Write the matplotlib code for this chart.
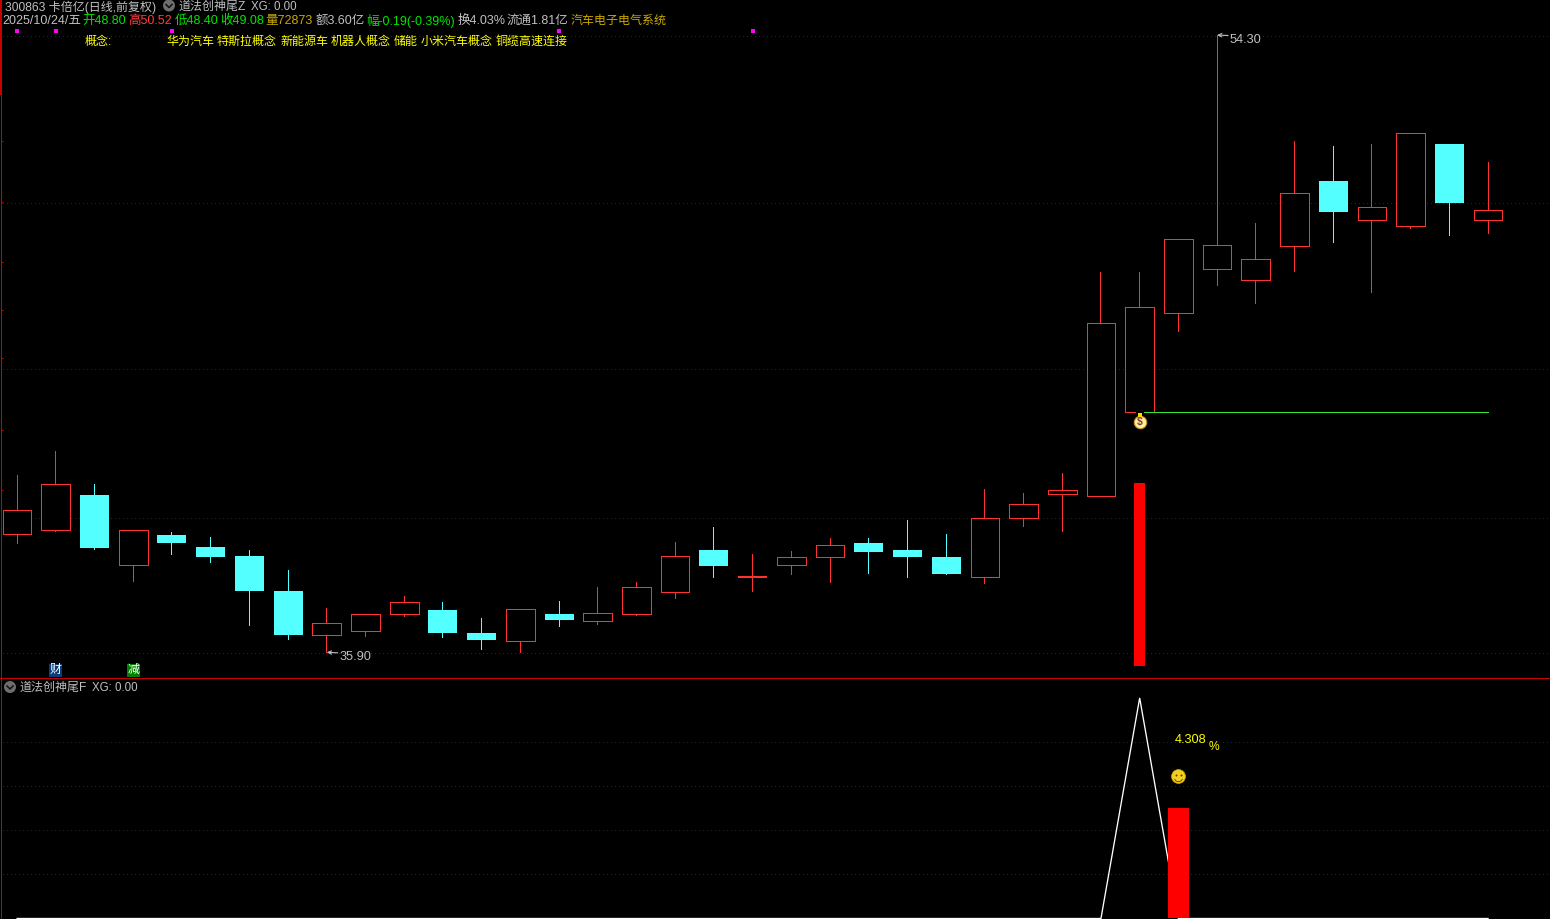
import matplotlib
matplotlib.use("Agg")
import matplotlib.pyplot as plt
from matplotlib.path import Path
from matplotlib.transforms import offset_copy

W, H = 1550, 919
FONT = ['Liberation Sans', 'Noto Sans CJK SC', 'DejaVu Sans']
plt.rcParams['font.family'] = FONT

opens = [39.44, 39.55, 40.59, 38.51, 39.40, 39.04, 38.77, 37.73, 36.43, 36.54,
         37.05, 37.16, 36.48, 36.25, 37.04, 36.84, 37.05, 37.71, 38.95, 38.15,
         38.51, 38.75, 39.16, 38.95, 38.74, 38.15, 39.91, 40.63, 40.57, 43.07,
         46.00, 47.32, 47.01, 48.02, 49.95, 48.79, 48.62, 51.05, 48.80]
closes = [40.13, 40.91, 39.01, 39.54, 39.16, 38.74, 37.73, 36.42, 36.77, 37.03,
          37.39, 36.48, 36.27, 37.18, 36.86, 37.06, 37.84, 38.76, 38.47, 38.15,
          38.73, 39.09, 38.89, 38.74, 38.23, 39.89, 40.31, 40.73, 45.71, 46.18,
          48.21, 48.03, 47.61, 49.58, 49.02, 49.16, 51.37, 49.29, 49.08]
highs = [41.19, 41.90, 40.92, 39.54, 39.49, 39.34, 38.95, 38.35, 37.22, 37.03,
         37.58, 37.40, 36.92, 37.18, 37.43, 37.85, 38.00, 39.19, 39.64, 38.83,
         38.92, 39.31, 39.31, 39.84, 39.43, 40.77, 40.65, 41.25, 47.24, 47.24,
         48.21, 54.30, 48.70, 51.14, 50.99, 51.05, 51.37, 51.05, 50.52]
lows = [39.17, 39.52, 38.98, 38.03, 38.83, 38.59, 36.71, 36.30, 35.90, 36.40,
        36.98, 36.36, 36.00, 35.90, 36.68, 36.74, 37.01, 37.52, 38.15, 37.73,
        38.23, 38.00, 38.26, 38.15, 38.23, 37.97, 39.67, 39.52, 40.57, 43.07,
        45.49, 46.85, 46.31, 47.27, 48.13, 46.64, 48.55, 48.34, 48.40]

main_grid = [54.26, 49.28, 44.34, 39.90, 35.87]
main_ticks = [51.14, 49.33, 47.53, 46.10, 44.67, 42.52, 40.73]
signal_dots = [0, 1, 4, 14, 19]
signal_price = 54.42
signal_bar_index = 29
signal_bar_top = 40.95
signal_bar_bottom = 35.49
support_price = 43.07
support_range = [29.12, 38]
bag_price = 42.78

lower_line = [0, 0, 0, 0, 0, 0, 0, 0, 0, 0,
              0, 0, 0, 0, 0, 0, 0, 0, 0, 0,
              0, 0, 0, 0, 0, 0, 0, 0, 0, 8.62,
              0, 0, 0, 0, 0, 0, 0, 0, 0]
lower_bar_index = 30
lower_bar_value = 4.308
lower_grid = [6.91, 5.19, 3.47, 1.75]
smile_value = 5.56

concept_words = [(166, '华为汽车'), (217, '特斯拉概念'), (280, '新能源车'), (331, '机器人概念'),
                 (394, '储能'), (420.5, '小米汽车概念'), (495.5, '铜缆高速连接')]

RED = '#ff3232'
CYAN = '#54ffff'
GRID = '#800000'
AXIS = '#c80000'
GRAY = '#c0c0c0'
GREEN = '#00e600'
OLIVE = '#c8a800'
YELLOW = '#ffff00'
LW = 0.7
WICK_SHIFT = -0.012

fig = plt.figure(figsize=(W / 100, H / 100), dpi=100, facecolor='black')
ax = fig.add_axes([0, 1 - 678.5 / H, 1, 678.5 / H], facecolor='black')
ax2 = fig.add_axes([0, 0, 1, 240 / H], facecolor='black')

XLIM = (-0.4412, 39.60)
ax.set_xlim(*XLIM)
ax.set_ylim(35.12, 55.343)
ax2.set_xlim(*XLIM)
ax2.set_ylim(-0.0196, 9.36)

for a in (ax, ax2):
    for side in ('top', 'right', 'bottom'):
        a.spines[side].set_visible(False)
    a.spines['left'].set_color(AXIS)
    a.spines['left'].set_linewidth(0.72)
    a.spines['left'].set_position(('outward', -0.8))
    a.set_xticks([])
    a.set_yticks([])
ax.set_yticks(main_ticks)
ax.set_yticklabels([])
ax.tick_params(axis='y', direction='in', length=1.5, width=0.72, color=AXIS)

ax.hlines(main_grid, -0.37, XLIM[1], colors=GRID, linewidth=0.72,
          linestyles=(0, (1, 3)), antialiased=False, zorder=1)
ax2.hlines(lower_grid, -0.37, XLIM[1], colors=GRID, linewidth=0.72,
           linestyles=(0, (1, 3)), antialiased=False, zorder=1)

# thick top part of the left axis
ax.plot([0.0008, 0.0008], [0.86, 1.0], transform=ax.transAxes, color=AXIS, lw=1.44,
        solid_capstyle='butt', clip_on=False, zorder=2)

BODY_W = 0.74
for i, (o, c, h, l) in enumerate(zip(opens, closes, highs, lows)):
    up = c >= o
    col = RED if up else CYAN
    top, bot = max(o, c), min(o, c)
    ax.vlines(i + WICK_SHIFT, bot, h, colors=col, linewidth=LW, antialiased=False, zorder=3)
    ax.vlines(i + WICK_SHIFT, l, top, colors=col, linewidth=LW, antialiased=False, zorder=3)
    if top - bot < 0.02:
        ax.hlines(top, i - BODY_W / 2, i + BODY_W / 2, colors=col, linewidth=1.44,
                  antialiased=False, zorder=4)
    elif up:
        ax.bar(i, top - bot, BODY_W, bot, facecolor='black', edgecolor=col,
               linewidth=LW, antialiased=False, zorder=4)
    else:
        ax.bar(i, top - bot, BODY_W + 0.01, bot, facecolor=col, edgecolor='none',
               antialiased=False, zorder=4)

ax.bar(signal_bar_index, signal_bar_top - signal_bar_bottom, 0.285,
       signal_bar_bottom, color='#ff0000', antialiased=False, zorder=4)
ax.hlines(support_price, support_range[0], support_range[1] + WICK_SHIFT, colors='#32e632',
          linewidth=LW, antialiased=False, zorder=5)
ax.scatter(signal_dots, [signal_price] * len(signal_dots), marker='s', s=7,
           color='#ff00ff', linewidths=0, zorder=5)

# money bag
ax.scatter([signal_bar_index], [support_price], marker='s', s=30, color='black',
           linewidths=0, zorder=6)
ax.scatter([signal_bar_index], [bag_price], marker='o', s=80, facecolor='#fff3a0',
           edgecolor='#c89030', linewidths=0.8, zorder=7)
ax.scatter([signal_bar_index], [support_price - 0.10], marker='s', s=9, color='#ffd800',
           linewidths=0, zorder=8)
ax.text(signal_bar_index, bag_price, '$', color='#8a3a30', fontsize=7.5, fontweight='bold',
        ha='center', va='center', zorder=8)

# extreme price labels
for i, price, label_x, label_y in [(31, 54.30, 1230, 40), (8, 35.90, 340, 657)]:
    ax.annotate('', xy=(i, price), xytext=(11, -0.5), textcoords='offset pixels',
                arrowprops=dict(arrowstyle='->,head_width=0.12,head_length=0.25',
                                color=GRAY, lw=0.8, shrinkA=0, shrinkB=0), zorder=6)
    fig.text(label_x / W, 1 - label_y / H, f'{price:.2f}', color=GRAY, fontsize=9.2,
             ha='left', va='center')

# event tags
for i, s, bg in [(1, '财', '#0a3c78'), (3, '减', '#008000')]:
    ax.text(i, 35.36, s, color='white', fontsize=8.6, ha='center', va='center',
            bbox=dict(boxstyle='square,pad=0.04', facecolor=bg, edgecolor='none'), zorder=6)

# lower panel
ax2.plot(range(len(lower_line)), lower_line, color='white', lw=0.95, zorder=3,
         solid_joinstyle='miter', clip_on=True)
ax2.bar(lower_bar_index, lower_bar_value, 0.545, 0, color='#ff0000',
        antialiased=False, zorder=4)
ax2.scatter([lower_bar_index], [smile_value], marker='o', s=100, facecolor='#f2cf20',
            edgecolor='#c8a010', linewidths=0.5, zorder=5)
for dx in (-2.5, 2.5):
    tr = offset_copy(ax2.transData, fig=fig, x=dx, y=1.5, units='dots')
    ax2.plot([lower_bar_index], [smile_value], marker='o', ms=1.4, color='#5a3a00',
             mew=0, transform=tr, zorder=6)
tr = offset_copy(ax2.transData, fig=fig, x=0, y=-1, units='dots')
ax2.plot([lower_bar_index], [smile_value], marker=Path.arc(200, 340), ms=6, mfc='none',
         mec='#5a3a00', mew=0.6, transform=tr, zorder=6)

# panel separator
sep = plt.Line2D([0, 1], [1 - 677.6 / H, 1 - 677.6 / H], transform=fig.transFigure,
                 color=AXIS, lw=0.7, antialiased=False, zorder=10)
fig.add_artist(sep)


def txt(x, y, s, color=GRAY, **kw):
    fig.text(x / W, 1 - y / H, s, color=color, fontsize=kw.pop('fontsize', 8.64),
             ha='left', va='center', **kw)


def fold_icon(x, y):
    fig.patches.append(plt.Circle((x, H - y), 6, transform=None, facecolor='#6e6e6e',
                                  edgecolor='none'))
    fig.add_artist(plt.Line2D([x - 3, x, x + 3], [H - y + 1, H - y - 2, H - y + 1],
                              transform=None, color='#101010', lw=1.1))


txt(5, 7, '300863 卡倍亿(日线,前复权)')
fold_icon(169, 5.5)
txt(179, 7, '道法创神尾Z')
txt(251, 7, 'XG: 0.00', fontsize=8.3)

row2 = [(3, '2025/10/24/五', GRAY), (83, '开48.80', GREEN), (129, '高50.52', '#ff3c3c'),
        (175, '低48.40', GREEN), (221, '收49.08', GREEN), (266, '量72873', OLIVE),
        (316, '额3.60亿', GRAY), (367, '幅-0.19(-0.39%)', GREEN), (458, '换4.03%', GRAY),
        (507, '流通1.81亿', GRAY)]
for x, s, c in row2:
    txt(x - 0.5, 21, s, c, fontsize=9)
txt(571, 21, '汽车电子电气系统', OLIVE)

txt(85, 42, '概念:', YELLOW)
for x, s in concept_words:
    txt(x, 42, s, YELLOW)

fold_icon(10, 687)
txt(20, 688, '道法创神尾F')
txt(92, 688, 'XG: 0.00', fontsize=8.3)
txt(1175, 740, f'{lower_bar_value:.3f}', YELLOW, fontsize=9.2)
txt(1209, 747, '%', YELLOW)

fig.savefig('out.png', dpi=100, facecolor='black')
